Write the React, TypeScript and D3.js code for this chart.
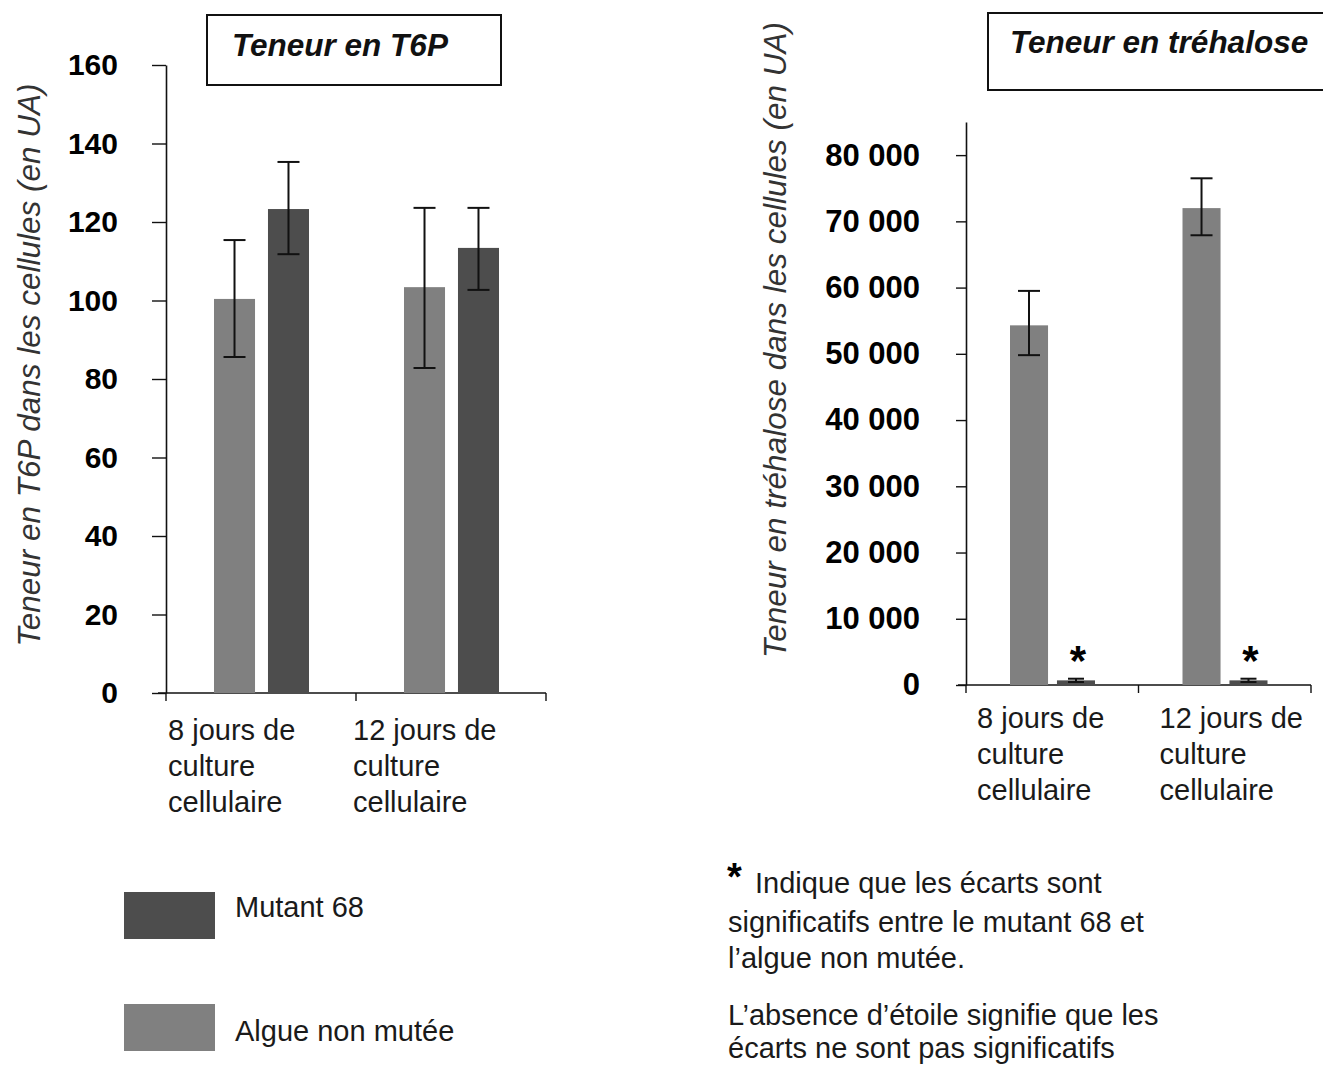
import React, { useRef, useEffect } from 'react';
import * as d3 from 'd3';

// categories
const groupLines = [["8 jours de", "culture", "cellulaire"], ["12 jours de", "culture", "cellulaire"]];
const seriesNames = ["Algue non mutée", "Mutant 68"];
const seriesColors = ["#808080", "#4d4d4d"];

// T6P content (UA)
const t6pAlgue = [100.4, 103.4];
const t6pAlgueLow = [85.6, 82.8];
const t6pAlgueHigh = [115.4, 123.6];
const t6pMutant = [123.3, 113.4];
const t6pMutantLow = [111.8, 102.7];
const t6pMutantHigh = [135.3, 123.6];
const t6pTicks = [0, 20, 40, 60, 80, 100, 120, 140, 160];

// trehalose content (UA)
const treAlgue = [54300, 72000];
const treAlgueLow = [49800, 67900];
const treAlgueHigh = [59500, 76500];
const treMutant = [700, 700];
const treMutantLow = [450, 450];
const treMutantHigh = [950, 950];
const treTicks = [0, 10000, 20000, 30000, 40000, 50000, 60000, 70000, 80000];
const treSignif = [true, true];

const noteLines = [
  "Indique que les écarts sont",
  "significatifs entre le mutant 68 et",
  "l’algue non mutée.",
  "L’absence d’étoile signifie que les",
  "écarts ne sont pas significatifs",
];

const FONT = "'Liberation Sans', Arial, sans-serif";
const frLocale = d3.formatLocale({ decimal: ",", thousands: " ", grouping: [3], currency: ["", " €"] });

function drawChart(svg, cfg) {
  const g = svg.append('g');

  const y = d3.scaleLinear().domain([0, cfg.yMax]).range([cfg.y0, cfg.yTop]);
  const x = d3.scaleBand().domain(['0', '1']).range([cfg.xAxis, cfg.xEnd]);
  const xs = d3.scaleBand().domain(['0', '1']).range(cfg.inner).paddingInner(cfg.pad);

  // y axis
  const yAxis = d3.axisLeft(y)
    .tickValues(cfg.ticks)
    .tickSize(cfg.tickLen)
    .tickSizeOuter(0)
    .tickPadding(cfg.labelPad)
    .tickFormat(cfg.fmt);
  const ya = g.append('g')
    .attr('transform', `translate(${cfg.xAxis},0)`)
    .call(yAxis);
  ya.select('.domain').attr('stroke', '#111').attr('stroke-width', 1.6);
  ya.selectAll('.tick line').attr('stroke', '#111').attr('stroke-width', 1.4);
  ya.selectAll('.tick text')
    .attr('font-family', FONT)
    .attr('font-weight', 'bold')
    .attr('font-size', cfg.tickFont)
    .attr('fill', '#000');

  // x axis
  g.append('line')
    .attr('x1', cfg.xAxis - 8).attr('x2', cfg.xEnd)
    .attr('y1', cfg.y0).attr('y2', cfg.y0)
    .attr('stroke', '#111').attr('stroke-width', 1.6);
  const bounds = [x('0'), x('1'), cfg.xEnd];
  bounds.forEach(b => {
    g.append('line')
      .attr('x1', b).attr('x2', b)
      .attr('y1', cfg.y0).attr('y2', cfg.y0 + 8)
      .attr('stroke', '#111').attr('stroke-width', 1.4);
  });

  // bars + error bars
  for (let i = 0; i < 2; i++) {
    for (let s = 0; s < 2; s++) {
      const v = cfg.values[s][i];
      const bx = x(String(i)) + xs(String(s));
      g.append('rect')
        .attr('x', bx)
        .attr('y', y(v))
        .attr('width', xs.bandwidth())
        .attr('height', cfg.y0 - y(v))
        .attr('fill', seriesColors[s]);

      const cx = bx + xs.bandwidth() / 2;
      const lo = y(cfg.low[s][i]);
      const hi = y(cfg.high[s][i]);
      const cap = s === 1 && cfg.smallCaps ? 8 : 11;
      g.append('line').attr('x1', cx).attr('x2', cx).attr('y1', lo).attr('y2', hi)
        .attr('stroke', '#111').attr('stroke-width', 2);
      [lo, hi].forEach(yy => {
        g.append('line').attr('x1', cx - cap).attr('x2', cx + cap).attr('y1', yy).attr('y2', yy)
          .attr('stroke', '#111').attr('stroke-width', 2);
      });

      if (s === 1 && cfg.signif && cfg.signif[i]) {
        g.append('text')
          .attr('x', cx + 2)
          .attr('y', cfg.y0 - 10)
          .attr('text-anchor', 'middle')
          .attr('font-family', FONT)
          .attr('font-weight', 'bold')
          .attr('font-size', 42)
          .text('*');
      }
    }

    // category label
    groupLines[i].forEach((line, k) => {
      g.append('text')
        .attr('x', x(String(i)) + cfg.labelOffsets[i])
        .attr('y', cfg.labelY + k * 36)
        .attr('font-family', FONT)
        .attr('font-size', 29)
        .attr('fill', '#1a1a1a')
        .text(line);
    });
  }

  // title box
  g.append('rect')
    .attr('x', cfg.box[0]).attr('y', cfg.box[1])
    .attr('width', cfg.box[2]).attr('height', cfg.box[3])
    .attr('fill', 'white').attr('stroke', '#111').attr('stroke-width', 2);
  g.append('text')
    .attr('x', cfg.titleX).attr('y', cfg.titleY)
    .attr('font-family', FONT)
    .attr('font-weight', 'bold')
    .attr('font-style', 'italic')
    .attr('font-size', 31.5)
    .attr('fill', '#111')
    .text(cfg.title);

  // y title
  g.append('text')
    .attr('transform', `translate(${cfg.yTitleX},${cfg.yTitleY}) rotate(-90)`)
    .attr('text-anchor', 'middle')
    .attr('font-family', FONT)
    .attr('font-style', 'italic')
    .attr('font-size', 31.5)
    .attr('fill', '#333')
    .text(cfg.yTitle);
}

const App = () => {
  const svgRef = useRef();

  useEffect(() => {
    const svg = d3.select(svgRef.current);
    svg.selectAll('*').remove();
    svg.append('rect').attr('width', 1323).attr('height', 1066).attr('fill', '#fff');

    drawChart(svg, {
      yMax: 160, y0: 693, yTop: 65,
      xAxis: 166, xEnd: 546,
      inner: [48, 143], pad: 0.24,
      ticks: t6pTicks, tickLen: 14, labelPad: 34, tickFont: 30,
      fmt: d3.format('d'),
      values: [t6pAlgue, t6pMutant],
      low: [t6pAlgueLow, t6pMutantLow],
      high: [t6pAlgueHigh, t6pMutantHigh],
      labelOffsets: [2, -3], labelY: 740,
      box: [207, 15, 294, 70], title: 'Teneur en T6P', titleX: 232, titleY: 56,
      yTitle: 'Teneur en T6P dans les cellules (en UA)', yTitleX: 40, yTitleY: 365,
    });

    drawChart(svg, {
      yMax: 85000, y0: 685, yTop: 122,
      xAxis: 966, xEnd: 1311,
      inner: [44, 129], pad: 0.19,
      ticks: treTicks, tickLen: 10, labelPad: 36, tickFont: 31,
      fmt: v => frLocale.format(',')(v),
      values: [treAlgue, treMutant],
      low: [treAlgueLow, treMutantLow],
      high: [treAlgueHigh, treMutantHigh],
      smallCaps: true,
      signif: treSignif,
      labelOffsets: [11, 21], labelY: 728,
      box: [988, 13, 340, 77], title: 'Teneur en tréhalose', titleX: 1010, titleY: 53,
      yTitle: 'Teneur en tréhalose dans les cellules (en UA)', yTitleX: 786, yTitleY: 340,
    });

    // legend
    const leg = svg.append('g');
    const legY = [892, 1004];
    [1, 0].forEach((s, k) => {
      leg.append('rect')
        .attr('x', 124).attr('y', legY[k])
        .attr('width', 91).attr('height', 47)
        .attr('fill', seriesColors[s]);
      leg.append('text')
        .attr('x', 235).attr('y', legY[k] + (k === 0 ? 25 : 37))
        .attr('font-family', FONT)
        .attr('font-size', 29)
        .attr('fill', '#1a1a1a')
        .text(seriesNames[s]);
    });

    // note
    const note = svg.append('g');
    note.append('text')
      .attr('x', 727).attr('y', 890)
      .attr('font-family', FONT)
      .attr('font-weight', 'bold')
      .attr('font-size', 38)
      .text('*');
    const noteY = [893, 932, 968, 1025, 1058];
    noteLines.forEach((line, k) => {
      note.append('text')
        .attr('x', k === 0 ? 755 : 728)
        .attr('y', noteY[k])
        .attr('font-family', FONT)
        .attr('font-size', 29)
        .attr('fill', '#1a1a1a')
        .text(line);
    });
  }, []);

  return (
    <svg ref={svgRef} width={1323} height={1066} style={{ position: 'absolute', left: 0, top: 0 }}></svg>
  );
};

export default App;
